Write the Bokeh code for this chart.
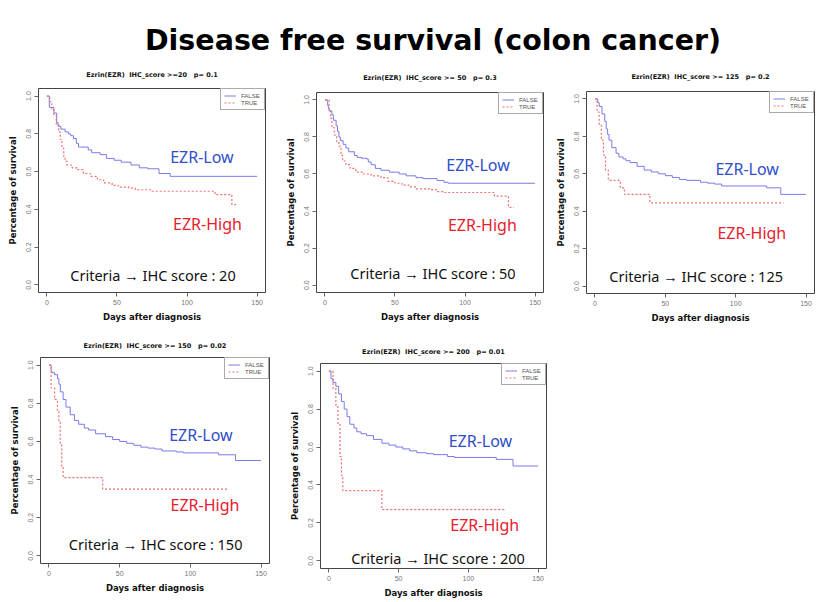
from bokeh.plotting import figure
from bokeh.layouts import column, row
from bokeh.models import Range1d, FixedTicker, PrintfTickFormatter, Label, Spacer
from bokeh.embed import file_html
from bokeh.resources import INLINE

# ---------------- data ----------------
X_TICKS = [0, 50, 100, 150]
Y_TICKS = [0.0, 0.2, 0.4, 0.6, 0.8, 1.0]

p1_low_t = [0, 1.7, 5, 7, 8, 10, 13, 15.5, 17, 19, 21, 22.5, 29.5, 32, 38, 42.5, 48, 53, 60, 66, 72, 80, 88, 150]
p1_low_s = [1.0, 0.94, 0.91, 0.86, 0.84, 0.825, 0.81, 0.80, 0.79, 0.775, 0.75, 0.73, 0.715, 0.70, 0.69, 0.67, 0.66, 0.65, 0.635, 0.62, 0.615, 0.59, 0.575, 0.575]
p1_high_t = [0, 2, 3.5, 5, 6.7, 8.4, 9.5, 10.7, 12, 13, 14.3, 18, 21.5, 26, 31, 36, 40.5, 46.5, 51, 58.5, 63, 75, 120, 132, 135]
p1_high_s = [1.0, 0.97, 0.925, 0.90, 0.85, 0.81, 0.77, 0.725, 0.68, 0.655, 0.635, 0.62, 0.61, 0.59, 0.575, 0.557, 0.54, 0.527, 0.518, 0.513, 0.504, 0.496, 0.478, 0.425, 0.425]

p2_low_t = [0, 2, 2.5, 3, 5, 6, 8, 9, 10, 11, 13, 15, 17, 21, 23, 26, 30, 31, 33, 36, 40, 46, 53, 58, 65, 70, 80, 85, 88, 150]
p2_low_s = [1.0, 0.97, 0.955, 0.94, 0.92, 0.89, 0.86, 0.83, 0.80, 0.78, 0.76, 0.74, 0.72, 0.70, 0.69, 0.685, 0.68, 0.665, 0.65, 0.63, 0.62, 0.61, 0.60, 0.59, 0.58, 0.575, 0.565, 0.555, 0.55, 0.55]
p2_high_t = [0, 3, 4, 5, 6.7, 8.4, 10, 11.5, 12.6, 15, 18, 22, 27, 33, 40, 45, 50, 55, 60, 65, 75, 80, 85, 121, 131, 135]
p2_high_s = [1.0, 0.95, 0.90, 0.85, 0.81, 0.775, 0.75, 0.70, 0.67, 0.65, 0.63, 0.61, 0.60, 0.59, 0.58, 0.56, 0.55, 0.54, 0.53, 0.52, 0.515, 0.505, 0.50, 0.48, 0.42, 0.42]

p3_low_t = [0, 2, 3, 5, 7, 8, 9, 10, 12, 15, 17, 20, 22, 25, 30, 35, 40, 45, 50, 55, 60, 65, 75, 80, 85, 90, 122, 132, 150]
p3_low_s = [1.0, 0.98, 0.96, 0.92, 0.88, 0.84, 0.81, 0.78, 0.74, 0.71, 0.69, 0.68, 0.67, 0.66, 0.64, 0.62, 0.61, 0.60, 0.59, 0.58, 0.57, 0.565, 0.555, 0.55, 0.545, 0.535, 0.525, 0.49, 0.49]
p3_high_t = [0, 1.5, 3, 4.5, 6, 7.5, 9.5, 18, 21, 39, 134]
p3_high_s = [1.0, 0.93, 0.86, 0.78, 0.70, 0.62, 0.565, 0.525, 0.49, 0.445, 0.445]

p4_low_t = [0, 1.5, 2, 4, 6, 7, 8, 10, 12, 15, 18, 21, 25, 28, 33, 40, 45, 50, 55, 60, 65, 70, 75, 80, 90, 95, 120, 132, 150]
p4_low_s = [1.0, 0.97, 0.96, 0.95, 0.93, 0.90, 0.86, 0.82, 0.78, 0.74, 0.71, 0.69, 0.67, 0.66, 0.64, 0.625, 0.61, 0.60, 0.59, 0.58, 0.57, 0.565, 0.56, 0.55, 0.545, 0.54, 0.53, 0.50, 0.50]
p4_high_t = [0, 1.5, 4, 6, 7, 8, 9, 10, 38, 127]
p4_high_s = [1.0, 0.88, 0.82, 0.76, 0.70, 0.59, 0.47, 0.41, 0.35, 0.35]

p5_low_t = [0, 1.5, 3, 5, 7, 9, 11, 13, 15, 18, 20, 23, 27, 32, 38, 43, 48, 53, 58, 63, 70, 75, 85, 90, 120, 132, 150]
p5_low_s = [1.0, 0.96, 0.94, 0.92, 0.88, 0.84, 0.80, 0.76, 0.72, 0.70, 0.68, 0.67, 0.66, 0.64, 0.62, 0.61, 0.60, 0.59, 0.58, 0.57, 0.565, 0.56, 0.55, 0.545, 0.535, 0.50, 0.50]
p5_high_t = [0, 3, 5, 6.5, 8, 9, 10, 38, 127]
p5_high_s = [1.0, 0.91, 0.82, 0.72, 0.55, 0.45, 0.37, 0.27, 0.27]

TITLES = [
    "Ezrin(EZR)\u00a0\u00a0IHC_score >=20\u00a0\u00a0\u00a0p= 0.1",
    "Ezrin(EZR)\u00a0\u00a0IHC_score >= 50\u00a0\u00a0\u00a0p= 0.3",
    "Ezrin(EZR)\u00a0\u00a0IHC_score >= 125\u00a0\u00a0\u00a0p= 0.2",
    "Ezrin(EZR)\u00a0\u00a0IHC_score >= 150\u00a0\u00a0\u00a0p= 0.02",
    "Ezrin(EZR)\u00a0\u00a0IHC_score >= 200\u00a0\u00a0\u00a0p= 0.01",
]
CRITERIA = ["20", "50", "125", "150", "200"]

BLUE = "#7A7AE8"
RED = "#F07070"
TXT_BLUE = "#2F4EC8"
TXT_RED = "#E8202E"


def panel(title, lt, ls, ht, hs, crit, lo, hi, cr, w, h, bl, br, bt, bb, tstand):
    p = figure(width=w, height=h, x_range=Range1d(-6, 156), y_range=Range1d(-0.04, 1.04),
               output_backend="svg", toolbar_location=None,
               min_border_left=bl, min_border_right=br, min_border_top=bt, min_border_bottom=bb)
    p.title.text = title
    p.title.align = "center"
    p.title.text_font = "DejaVu Sans"
    p.title.text_font_size = "6.5px"
    p.title.text_font_style = "bold"
    p.title.text_color = "#111111"
    p.title.standoff = tstand
    p.grid.visible = False
    p.outline_line_color = "#444444"
    p.outline_line_width = 1

    p.step(lt, ls, mode="after", line_color=BLUE, line_width=1, legend_label="FALSE")
    p.step(ht, hs, mode="after", line_color=RED, line_width=1.2, line_dash="2 2", legend_label="TRUE")

    p.xaxis.ticker = FixedTicker(ticks=X_TICKS)
    p.yaxis.ticker = FixedTicker(ticks=Y_TICKS)
    p.yaxis.formatter = PrintfTickFormatter(format="%.1f")
    p.yaxis.major_label_orientation = "vertical"
    p.axis.axis_line_color = None
    p.axis.major_tick_line_color = "#666666"
    p.axis.major_tick_out = 4
    p.axis.major_tick_in = 0
    p.axis.minor_tick_line_color = None
    p.axis.major_label_text_font = "Liberation Sans"
    p.axis.major_label_text_font_size = "7px"
    p.axis.major_label_text_color = "#777777"
    p.axis.major_label_standoff = 3
    p.xaxis.axis_label = "Days after diagnosis"
    p.yaxis.axis_label = "Percentage of survival"
    p.axis.axis_label_text_font = "DejaVu Sans"
    p.axis.axis_label_text_font_size = "8.5px"
    p.axis.axis_label_text_font_style = "bold"
    p.axis.axis_label_text_color = "#111111"
    p.xaxis.axis_label_standoff = 4
    p.yaxis.axis_label_standoff = 6

    lg = p.legend[0]
    lg.location = "top_right"
    lg.margin = 0
    lg.padding = 3
    lg.spacing = 0
    lg.label_height = 7
    lg.glyph_height = 7
    lg.glyph_width = 12
    lg.label_standoff = 5
    lg.label_text_font = "Liberation Sans"
    lg.label_text_font_size = "6px"
    lg.label_text_color = "#555555"
    lg.border_line_color = "#555555"
    lg.border_line_width = 1
    lg.background_fill_alpha = 1.0

    p.add_layout(Label(x=lo[0], y=lo[1], text="EZR-Low", text_color=TXT_BLUE, text_font="Noto Sans",
                       text_font_size="16px", text_baseline="middle"))
    p.add_layout(Label(x=hi[0], y=hi[1], text="EZR-High", text_color=TXT_RED, text_font="Noto Sans",
                       text_font_size="16px", text_baseline="middle"))
    p.add_layout(Label(x=cr[0], y=cr[1], text="Criteria \u2192 IHC score : " + crit, text_color="#111111",
                       text_font="Noto Sans", text_font_size="14.5px", text_baseline="middle"))
    return p


p1 = panel(TITLES[0], p1_low_t, p1_low_s, p1_high_t, p1_high_s, CRITERIA[0],
           (88, 0.68), (90, 0.325), (16.7, 0.053), 278, 272, 38, 13, 30, 38, 20)
p2 = panel(TITLES[1], p2_low_t, p2_low_s, p2_high_t, p2_high_s, CRITERIA[1],
           (86.6, 0.65), (87.8, 0.327), (18.1, 0.067), 270, 270, 38, 5, 30, 38, 22)
p3 = panel(TITLES[2], p3_low_t, p3_low_s, p3_high_t, p3_high_s, CRITERIA[2],
           (85.6, 0.626), (87, 0.286), (10.2, 0.054), 268, 270, 38, 2, 30, 37, 21)
p4 = panel(TITLES[3], p4_low_t, p4_low_s, p4_high_t, p4_high_s, CRITERIA[3],
           (85, 0.633), (86, 0.267), (14, 0.061), 280, 270, 40, 11, 27, 37, 15)
p5 = panel(TITLES[4], p5_low_t, p5_low_s, p5_high_t, p5_high_s, CRITERIA[4],
           (85.9, 0.634), (87, 0.188), (16, 0.014), 280, 264, 40, 14, 27, 32, 15)

tf = figure(width=816, height=58, x_range=Range1d(0, 816), y_range=Range1d(0, 58),
            output_backend="svg", toolbar_location=None, min_border=0)
tf.outline_line_color = None
tf.axis.visible = False
tf.grid.visible = False
tf.add_layout(Label(x=432.5, y=18, text="Disease free survival (colon cancer)", text_align="center",
                    text_baseline="alphabetic", text_font="DejaVu Sans", text_font_size="28.5px",
                    text_font_style="bold", text_color="#000000"))

row1 = row(p1, column(Spacer(width=270, height=2), p2), column(Spacer(width=268, height=2), p3))
row2 = row(p4, column(Spacer(width=280, height=6), p5))
layout = column(tf, row1, row2)

open("out.html", "w").write(file_html(layout, INLINE))
